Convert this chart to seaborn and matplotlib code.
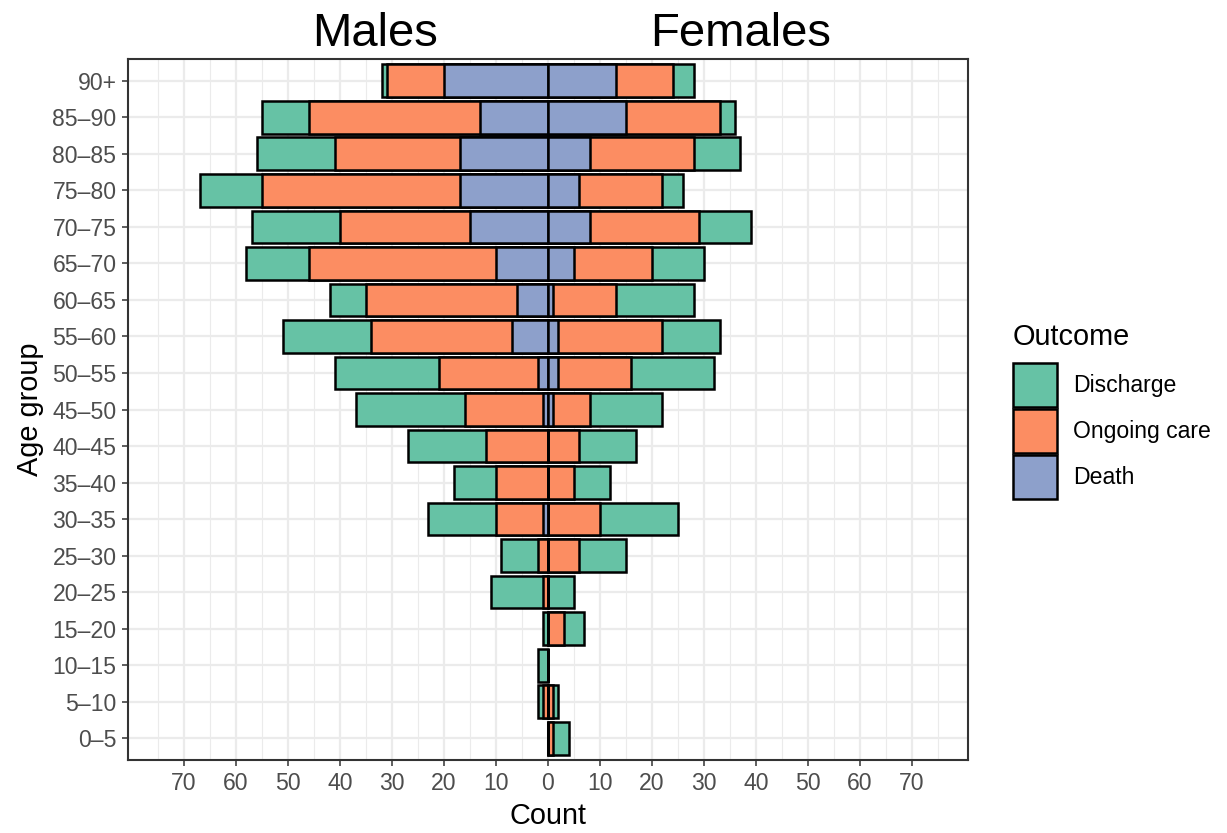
import matplotlib
matplotlib.use("Agg")
import matplotlib.pyplot as plt
import seaborn as sns
import numpy as np
import pandas as pd
from matplotlib.patches import Patch

# Age groups, top to bottom
ages = ["90+", "85–90", "80–85", "75–80", "70–75", "65–70", "60–65", "55–60",
        "50–55", "45–50", "40–45", "35–40", "30–35", "25–30", "20–25", "15–20",
        "10–15", "5–10", "0–5"]

male_death = [20, 13, 17, 17, 15, 10, 6, 7, 2, 1, 0, 0, 1, 0, 0, 0, 0, 0, 0]
male_ongoing = [11, 33, 24, 38, 25, 36, 29, 27, 19, 15, 12, 10, 9, 2, 1, 0, 0, 1, 0]
male_discharge = [1, 9, 15, 12, 17, 12, 7, 17, 20, 21, 15, 8, 13, 7, 10, 1, 2, 1, 0]

female_death = [13, 15, 8, 6, 8, 5, 1, 2, 2, 1, 0, 0, 0, 0, 0, 0, 0, 0, 0]
female_ongoing = [11, 18, 20, 16, 21, 15, 12, 20, 14, 7, 6, 5, 10, 6, 0, 3, 0, 1, 1]
female_discharge = [4, 3, 9, 4, 10, 10, 15, 11, 16, 14, 11, 7, 15, 9, 5, 4, 0, 1, 3]

outcomes = ["Discharge", "Ongoing care", "Death"]
colors = {"Discharge": "#66C2A5", "Ongoing care": "#FC8D62", "Death": "#8DA0CB"}
x_ticks = list(range(-70, 80, 10))

# Long table with cumulative (stacked) ends, males negative
rows = []
for sex, sign, d, o, c in [("Male", -1, male_death, male_ongoing, male_discharge),
                           ("Female", 1, female_death, female_ongoing, female_discharge)]:
    for i, age in enumerate(ages):
        rows.append((sex, age, "Death", sign * d[i]))
        rows.append((sex, age, "Ongoing care", sign * (d[i] + o[i])))
        rows.append((sex, age, "Discharge", sign * (d[i] + o[i] + c[i])))
df = pd.DataFrame(rows, columns=["Sex", "Age", "Outcome", "End"])

sns.set_theme(style="white")
plt.rcParams["font.family"] = ["Liberation Sans", "DejaVu Sans"]
plt.rcParams["text.color"] = "black"

fig, ax = plt.subplots(figsize=(12.27, 8.33), dpi=100)
fig.subplots_adjust(left=0.1043, right=0.7889, top=0.9292, bottom=0.0876)

# outermost first, so the inner segments sit on top
for outcome in outcomes:
    for sex in ["Male", "Female"]:
        sub = df[(df["Outcome"] == outcome) & (df["Sex"] == sex)]
        sns.barplot(data=sub, x="End", y="Age", order=ages, orient="h",
                    color=colors[outcome], saturation=1, width=0.9,
                    edgecolor="black", linewidth=1.8, errorbar=None, ax=ax)

ax.set_xlim(-80.8, 80.8)
ax.set_ylim(18.6, -0.6)
ax.set_xticks(x_ticks)
ax.set_xticklabels([str(abs(t)) for t in x_ticks])
ax.set_xticks(np.arange(-75, 80, 10), minor=True)

ax.set_axisbelow(True)
ax.grid(True, which="major", color="#EBEBEB", linewidth=1.6)
ax.grid(True, which="minor", axis="x", color="#EBEBEB", linewidth=0.8)
for s in ax.spines.values():
    s.set_visible(True)
    s.set_color("#333333")
    s.set_linewidth(1.5)

ax.tick_params(axis="both", which="major", labelsize=16.6, labelcolor="#4D4D4D",
               color="#333333", length=4.3, width=1.1, pad=4,
               bottom=True, left=True)
ax.tick_params(axis="x", which="minor", length=0)

ax.set_xlabel("Count", fontsize=20.8, color="black", labelpad=5)
ax.set_ylabel("Age group", fontsize=20.8, color="black", labelpad=6)

fig.text(375 / 1227, 1 - 46 / 833, "Males", fontsize=34, ha="center",
         va="baseline", color="black")
fig.text(741 / 1227, 1 - 46 / 833, "Females", fontsize=34, ha="center",
         va="baseline", color="black")

handles = [Patch(facecolor=colors[o], edgecolor="black", linewidth=1.8) for o in outcomes]
leg = fig.legend(handles, outcomes, title="Outcome", loc="center left",
                 bbox_to_anchor=(1013 / 1227, 1 - 411 / 833), frameon=False,
                 fontsize=16.6, title_fontsize=20.8, handlelength=1.9,
                 handleheight=2.56, labelspacing=0.08, handletextpad=0.7,
                 borderpad=0, borderaxespad=0, alignment="left")
leg._legend_box.sep = 9
for t in leg.get_texts():
    t.set_color("black")

plt.savefig("out.png", dpi=100)
plt.close()
